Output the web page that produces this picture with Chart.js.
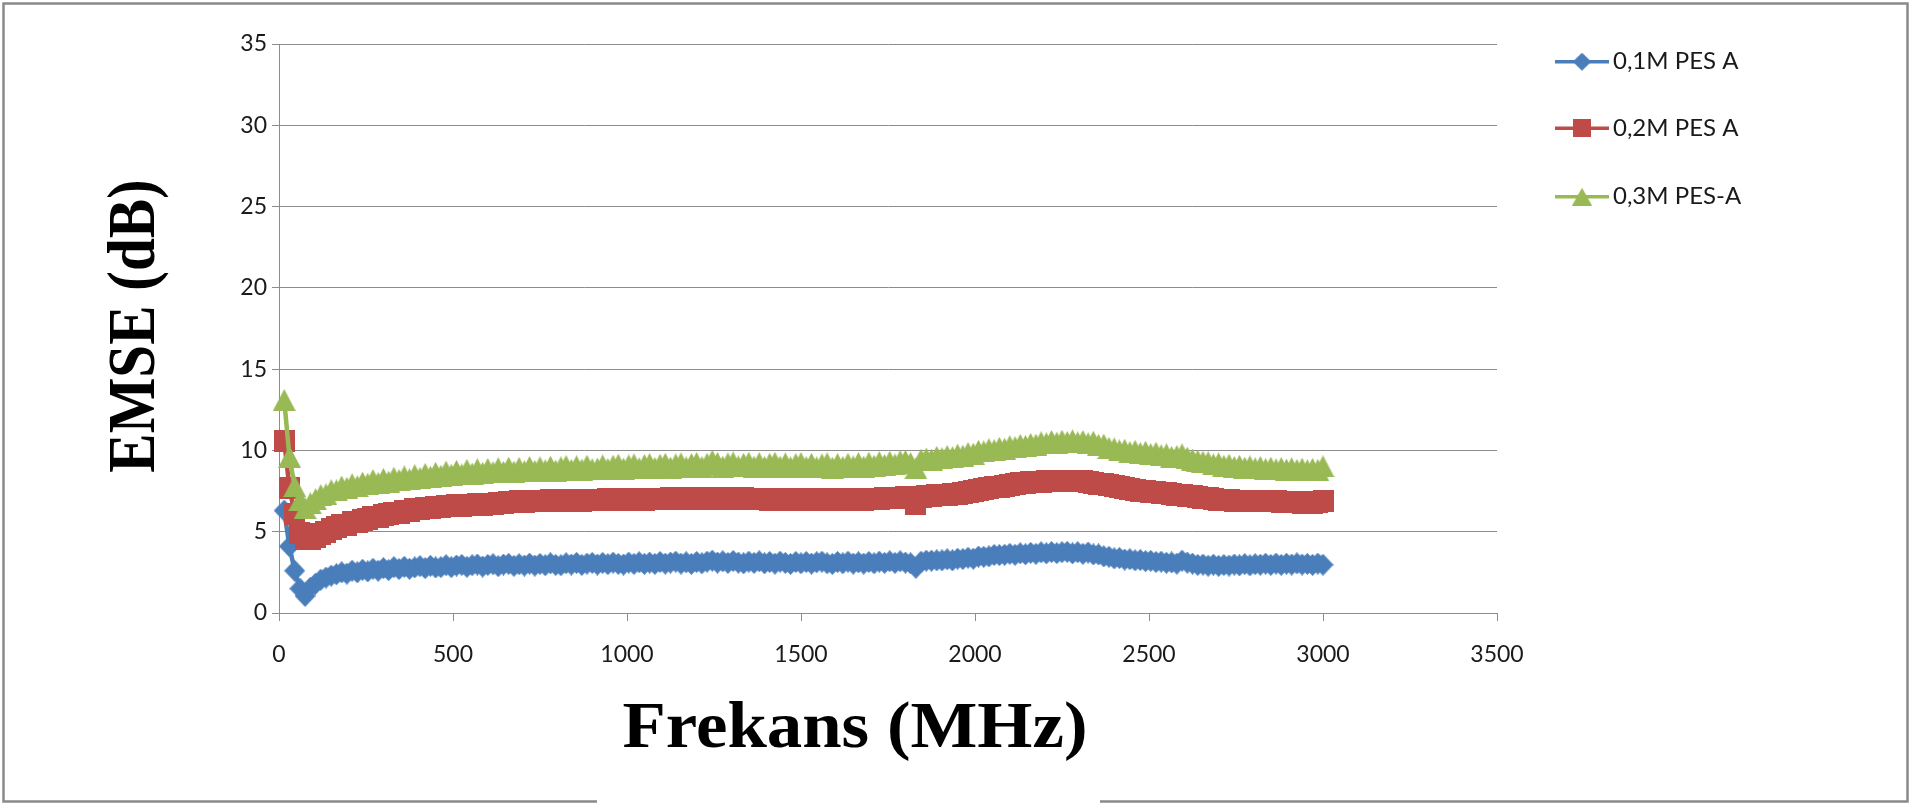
<!DOCTYPE html>
<html>
<head>
<meta charset="utf-8">
<script src="https://cdn.jsdelivr.net/npm/chart.js@4.4.1/dist/chart.umd.min.js"></script>
<style>
  html, body { margin: 0; padding: 0; background: #ffffff; }
  #wrap { width: 1930px; height: 803px; position: relative; }
</style>
</head>
<body>
<div id="wrap"><canvas id="emse" width="1930" height="803"></canvas></div>
<script>
// Frequency sweep (MHz)
const frequencies = [
  15,30,45,60,75,90,105,120,135,150,
  165,180,195,210,225,240,255,270,285,300,
  315,330,345,360,375,390,405,420,435,450,
  465,480,495,510,525,540,555,570,585,600,
  615,630,645,660,675,690,705,720,735,750,
  765,780,795,810,825,840,855,870,885,900,
  915,930,945,960,975,990,1005,1020,1035,1050,
  1065,1080,1095,1110,1125,1140,1155,1170,1185,1200,
  1215,1230,1245,1260,1275,1290,1305,1320,1335,1350,
  1365,1380,1395,1410,1425,1440,1455,1470,1485,1500,
  1515,1530,1545,1560,1575,1590,1605,1620,1635,1650,
  1665,1680,1695,1710,1725,1740,1755,1770,1785,1800,
  1815,1830,1845,1860,1875,1890,1905,1920,1935,1950,
  1965,1980,1995,2010,2025,2040,2055,2070,2085,2100,
  2115,2130,2145,2160,2175,2190,2205,2220,2235,2250,
  2265,2280,2295,2310,2325,2340,2355,2370,2385,2400,
  2415,2430,2445,2460,2475,2490,2505,2520,2535,2550,
  2565,2580,2595,2610,2625,2640,2655,2670,2685,2700,
  2715,2730,2745,2760,2775,2790,2805,2820,2835,2850,
  2865,2880,2895,2910,2925,2940,2955,2970,2985,3000
];

// EMSE (dB) – 0,1M PES A
const pes01 = [
  6.30,4.10,2.60,1.50,1.05,1.55,1.80,2.05,2.18,2.30,
  2.38,2.50,2.42,2.60,2.50,2.66,2.56,2.72,2.60,2.76,
  2.64,2.82,2.70,2.84,2.72,2.80,2.88,2.76,2.90,2.80,
  2.82,2.94,2.82,2.92,2.96,2.84,2.94,2.98,2.86,2.96,
  3.00,2.88,2.98,3.02,2.90,3.00,2.92,3.04,2.92,3.02,
  2.94,3.06,2.96,2.94,3.06,2.98,3.08,2.96,3.04,3.08,
  2.98,3.08,3.00,3.10,3.02,2.98,3.10,3.02,3.12,3.02,
  3.10,3.02,3.14,3.04,3.10,3.16,3.04,3.12,3.02,3.14,
  3.06,3.16,3.22,3.10,3.18,3.08,3.20,3.10,3.06,3.16,
  3.08,3.18,3.06,3.14,3.04,3.16,3.08,3.02,3.14,3.06,
  3.14,3.04,3.12,3.16,3.06,3.02,3.14,3.06,3.16,3.04,
  3.12,3.04,3.14,3.06,3.16,3.08,3.18,3.08,3.18,3.10,
  3.06,2.78,3.16,3.22,3.22,3.24,3.24,3.30,3.24,3.34,
  3.32,3.40,3.34,3.47,3.46,3.48,3.57,3.56,3.58,3.64,
  3.58,3.67,3.61,3.70,3.64,3.73,3.67,3.75,3.68,3.74,
  3.76,3.67,3.74,3.64,3.72,3.60,3.60,3.48,3.46,3.36,
  3.38,3.29,3.31,3.24,3.26,3.19,3.21,3.14,3.16,3.09,
  3.11,3.04,3.22,3.10,3.04,2.96,2.98,2.91,2.97,2.90,
  2.95,2.92,2.98,2.93,3.01,2.93,3.00,2.97,3.03,2.96,
  3.04,2.96,3.03,2.98,3.05,2.98,3.02,2.96,3.04,2.97
];

// EMSE (dB) – 0,2M PES A
const pes02 = [
  10.60,7.70,6.10,4.90,4.55,4.55,4.70,4.85,5.00,5.15,
  5.26,5.40,5.44,5.58,5.60,5.75,5.78,5.90,5.92,6.05,
  6.06,6.16,6.18,6.30,6.30,6.38,6.38,6.46,6.46,6.54,
  6.52,6.58,6.56,6.62,6.60,6.66,6.63,6.68,6.66,6.72,
  6.70,6.76,6.76,6.82,6.80,6.86,6.83,6.88,6.86,6.92,
  6.88,6.94,6.90,6.96,6.92,6.97,6.93,6.91,6.96,6.93,
  6.97,6.94,6.99,6.95,6.97,6.94,7.00,6.95,7.01,6.98,
  7.03,6.99,7.03,7.00,7.05,7.01,7.05,7.01,7.07,7.02,
  7.07,7.03,7.10,7.03,7.07,7.02,7.06,7.01,7.05,7.00,
  7.04,6.99,7.03,6.98,7.02,6.97,7.01,6.96,7.00,6.95,
  6.99,6.94,6.99,6.95,7.00,6.95,7.00,6.96,7.01,6.97,
  7.02,6.98,7.04,6.99,7.03,7.06,7.06,7.10,7.10,7.14,
  7.08,6.72,7.16,7.20,7.22,7.24,7.26,7.28,7.30,7.34,
  7.38,7.42,7.48,7.55,7.62,7.66,7.72,7.78,7.84,7.90,
  7.94,7.98,8.00,8.04,8.06,8.08,8.10,8.12,8.13,8.13,
  8.13,8.12,8.12,8.10,8.08,8.00,7.96,7.92,7.86,7.80,
  7.74,7.68,7.64,7.58,7.52,7.48,7.44,7.42,7.38,7.36,
  7.32,7.28,7.26,7.22,7.18,7.14,7.10,7.05,7.00,6.98,
  6.95,6.93,6.92,6.91,6.90,6.89,6.88,6.88,6.87,6.87,
  6.86,6.85,6.84,6.82,6.80,6.78,6.78,6.76,6.80,6.88
];

// EMSE (dB) – 0,3M PES-A
const pes03 = [
  13.10,9.60,7.80,6.95,6.45,6.75,7.00,7.25,7.30,7.55,
  7.55,7.78,7.70,7.92,7.80,8.02,7.95,8.18,8.00,8.25,
  8.08,8.32,8.18,8.40,8.22,8.48,8.30,8.56,8.38,8.62,
  8.44,8.70,8.50,8.74,8.52,8.80,8.58,8.84,8.62,8.86,
  8.66,8.90,8.68,8.94,8.70,8.92,8.72,8.98,8.74,8.96,
  8.78,9.00,8.76,8.96,9.04,8.80,9.02,8.82,9.06,8.84,
  8.88,9.08,8.86,9.06,9.12,8.88,9.08,9.14,8.90,9.10,
  9.16,8.92,9.12,9.18,8.94,9.14,9.20,8.96,9.16,9.22,
  8.98,9.18,9.36,9.22,9.00,9.20,9.26,9.02,9.18,9.24,
  9.00,9.22,8.98,9.18,9.24,9.00,9.20,8.96,9.16,9.22,
  8.98,9.18,8.96,9.14,9.20,8.94,9.16,8.98,9.18,9.02,
  9.22,9.00,9.24,9.06,9.28,9.10,9.30,9.14,9.34,9.36,
  9.22,8.90,9.44,9.50,9.44,9.60,9.52,9.66,9.58,9.74,
  9.68,9.84,9.80,9.98,9.94,10.08,10.02,10.16,10.10,10.26,
  10.20,10.34,10.28,10.40,10.36,10.50,10.44,10.58,10.48,10.60,
  10.52,10.62,10.50,10.58,10.44,10.54,10.34,10.36,10.16,10.12,
  10.00,10.04,9.90,9.98,9.84,9.92,9.78,9.86,9.70,9.76,
  9.60,9.66,9.76,9.56,9.44,9.38,9.30,9.28,9.14,9.20,
  9.06,9.12,8.98,9.06,8.94,9.02,8.90,8.98,8.86,8.94,
  8.84,8.92,8.82,8.90,8.80,8.88,8.78,8.86,8.80,9.02
];

const seriesNames = ['0,1M PES A', '0,2M PES A', '0,3M PES-A'];
const seriesColors = ['#4A7EBB', '#BE4B48', '#98B954'];
const seriesShapes = ['diamond', 'square', 'triangle'];
const xTickValues = [0, 500, 1000, 1500, 2000, 2500, 3000, 3500];
const yTickValues = [0, 5, 10, 15, 20, 25, 30, 35];
const xTitle = 'Frekans (MHz)';
const yTitle = 'EMSE (dB)';

// Marker sprites, centred on each data point
function makeMarker(shape, color) {
  const c = document.createElement('canvas');
  const size = { diamond: [21, 22], square: [21, 22], triangle: [23, 22] }[shape];
  c.width = size[0];
  c.height = size[1];
  const g = c.getContext('2d');
  const w = c.width, h = c.height;
  g.fillStyle = color;
  g.beginPath();
  if (shape === 'diamond') {
    g.moveTo(w / 2, 0); g.lineTo(w, h / 2); g.lineTo(w / 2, h); g.lineTo(0, h / 2);
  } else if (shape === 'square') {
    g.rect(0, 0, w, h);
  } else {
    g.moveTo(w / 2, 0); g.lineTo(w, h); g.lineTo(0, h);
  }
  g.closePath();
  g.fill();
  return c;
}

const markers = seriesShapes.map((s, i) => makeMarker(s, seriesColors[i]));
const seriesValues = [pes01, pes02, pes03];

const datasets = seriesValues.map((vals, i) => ({
  label: seriesNames[i],
  data: frequencies.map((f, k) => ({ x: f, y: vals[k] })),
  borderColor: seriesColors[i],
  backgroundColor: seriesColors[i],
  borderWidth: 4.5,
  pointStyle: markers[i],
  pointRadius: 10,
  pointHoverRadius: 10,
  tension: 0,
  clip: false,
  order: 2 - i
}));

// Legend at the right: line with marker, then the series name
const sideLegend = {
  id: 'sideLegend',
  afterDraw(chart) {
    const { ctx, chartArea } = chart;
    const x0 = chartArea.right + 58;
    const rows = [17.7, 84.3, 152.7];
    ctx.save();
    seriesNames.forEach((name, i) => {
      const cy = chartArea.top + rows[i];
      ctx.strokeStyle = seriesColors[i];
      ctx.lineWidth = 3.5;
      ctx.beginPath();
      ctx.moveTo(x0, cy);
      ctx.lineTo(x0 + 54, cy);
      ctx.stroke();
      const m = markers[i];
      const mw = m.width * 0.88, mh = m.height * 0.82;
      ctx.drawImage(m, x0 + 27 - mw / 2, cy - mh / 2, mw, mh);
      ctx.fillStyle = '#1a1a1a';
      ctx.font = '24px Lato';
      ctx.textBaseline = 'middle';
      ctx.textAlign = 'left';
      ctx.fillText(name, x0 + 58, cy);
    });
    ctx.restore();
  }
};

// Axis titles in bold serif, set slightly wide
const axisTitles = {
  id: 'axisTitles',
  afterDraw(chart) {
    const ctx = chart.ctx;
    ctx.save();
    ctx.fillStyle = '#000000';
    ctx.font = 'bold 65px "Liberation Serif"';
    ctx.textAlign = 'center';
    ctx.textBaseline = 'alphabetic';
    ctx.translate(855, 747);
    ctx.scale(1.09, 1);
    ctx.fillText(xTitle, 0, 0);
    ctx.restore();

    ctx.save();
    ctx.fillStyle = '#000000';
    ctx.font = 'bold 59px "Liberation Serif"';
    ctx.textAlign = 'center';
    ctx.textBaseline = 'middle';
    ctx.translate(137, 326);
    ctx.rotate(-Math.PI / 2);
    ctx.scale(1, 1.14);
    ctx.fillText(yTitle, 0, 0);
    ctx.restore();
  }
};

// Outer frame of the figure (open along part of the bottom edge)
const frame = {
  id: 'frame',
  afterDraw(chart) {
    const ctx = chart.ctx;
    ctx.save();
    ctx.strokeStyle = '#8a8a8a';
    ctx.lineWidth = 2.5;
    ctx.beginPath();
    ctx.moveTo(597, 801.5);
    ctx.lineTo(3.5, 801.5);
    ctx.lineTo(3.5, 3.5);
    ctx.lineTo(1907.5, 3.5);
    ctx.lineTo(1907.5, 801.5);
    ctx.lineTo(1100, 801.5);
    ctx.stroke();
    ctx.restore();
  }
};

Chart.defaults.font.family = 'Lato';

new Chart(document.getElementById('emse'), {
  type: 'line',
  data: { datasets },
  options: {
    responsive: false,
    animation: false,
    devicePixelRatio: 1,
    events: [],
    layout: { padding: { left: 0, top: 44, right: 433, bottom: 0 } },
    plugins: { legend: { display: false }, tooltip: { enabled: false } },
    scales: {
      x: {
        type: 'linear',
        min: 0,
        max: 3500,
        afterBuildTicks: s => { s.ticks = xTickValues.map(v => ({ value: v })); },
        afterFit: s => { s.height = 190; },
        ticks: {
          callback: v => String(v),
          font: { size: 23 },
          color: '#1a1a1a',
          padding: 20,
          maxRotation: 0
        },
        grid: { drawOnChartArea: false, drawTicks: true, tickLength: 8, color: '#8c8c8c', lineWidth: 1 },
        border: { display: true, color: '#8c8c8c', width: 1 },
        title: { display: false, text: xTitle }
      },
      y: {
        type: 'linear',
        min: 0,
        max: 35,
        afterBuildTicks: s => { s.ticks = yTickValues.map(v => ({ value: v })); },
        afterFit: s => { s.width = 279; },
        ticks: {
          callback: v => String(v),
          font: { size: 23 },
          color: '#1a1a1a',
          padding: 5
        },
        grid: { drawTicks: true, tickLength: 7, color: '#8c8c8c', lineWidth: 1 },
        border: { display: true, color: '#8c8c8c', width: 1 },
        title: { display: false, text: yTitle }
      }
    }
  },
  plugins: [sideLegend, axisTitles, frame]
});
</script>
</body>
</html>
